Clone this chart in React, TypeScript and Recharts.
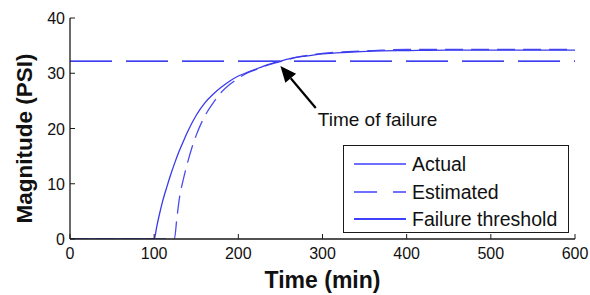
import React from "react";
import { LineChart, Line, XAxis, YAxis, Legend, ReferenceLine } from "recharts";

const actualT = [0, 100, 103, 106, 110, 115, 120, 125, 130, 135, 140, 150, 160, 170, 180, 190, 200, 210, 220, 230, 240, 250, 260, 270, 280, 300, 330, 360, 400, 450, 500, 600];
const actualV = [0, 0, 2.2, 4.3, 6.8, 9.4, 11.8, 14.0, 16.0, 17.8, 19.5, 22.4, 24.6, 26.2, 27.5, 28.6, 29.5, 30.1, 30.7, 31.3, 31.8, 32.2, 32.6, 32.9, 33.1, 33.5, 33.8, 34.0, 34.1, 34.2, 34.2, 34.2];

const estimatedT = [0, 124, 127, 130, 135, 140, 145, 150, 160, 170, 180, 190, 200, 210, 220, 230, 240, 250, 260, 270, 280, 300, 330, 360, 400, 450, 500, 600];
const estimatedV = [0, 0, 3.8, 7.4, 11.0, 14.0, 16.6, 18.8, 22.2, 24.6, 26.6, 28.0, 29.1, 30.0, 30.6, 31.2, 31.7, 32.1, 32.5, 32.9, 33.2, 33.6, 33.9, 34.1, 34.3, 34.3, 34.3, 34.3];

const thresholdT = [0, 600];
const thresholdV = [32.2, 32.2];

const xTicks = [0, 100, 200, 300, 400, 500, 600];
const yTicks = [0, 10, 20, 30, 40];

const arrowTail = { t: 292, v: 23.7 };
const arrowTip = { t: 250, v: 31.3 };
const annotationText = "Time of failure";

const legendItems = ["Actual", "Estimated", "Failure threshold"];
const xLabel = "Time (min)";
const yLabel = "Magnitude (PSI)";

const toData = (ts: number[], vs: number[]) => ts.map((t, i) => ({ t, v: vs[i] }));
const actualData = toData(actualT, actualV);
const estimatedData = toData(estimatedT, estimatedV);
const thresholdData = toData(thresholdT, thresholdV);

const FONT = "Arial, 'Liberation Sans', sans-serif";
const AXIS = "#1a1a1a";

const BottomTick = (p: any) => (
  <g>
    <line x1={p.x} y1={p.y} x2={p.x} y2={p.y - 5} stroke={AXIS} strokeWidth={1} />
    <text x={p.x} y={p.y + 20} textAnchor="middle" fontSize={16} fontFamily={FONT} fill="#111">
      {p.payload.value}
    </text>
  </g>
);
const TopTick = (p: any) => (
  <line x1={p.x} y1={p.y} x2={p.x} y2={p.y + 5} stroke={AXIS} strokeWidth={1} />
);
const LeftTick = (p: any) => (
  <g>
    <line x1={p.x} y1={p.y} x2={p.x + 5} y2={p.y} stroke={AXIS} strokeWidth={1} />
    <text x={p.x - 5} y={p.y + 6} textAnchor="end" fontSize={16} fontFamily={FONT} fill="#111">
      {p.payload.value}
    </text>
  </g>
);
const RightTick = (p: any) => (
  <line x1={p.x} y1={p.y} x2={p.x - 5} y2={p.y} stroke={AXIS} strokeWidth={1} />
);

const ArrowShape = (p: any) => {
  const { x1, y1, x2, y2 } = p;
  const dx = x2 - x1;
  const dy = y2 - y1;
  const len = Math.sqrt(dx * dx + dy * dy) || 1;
  const ux = dx / len;
  const uy = dy / len;
  const hl = 16;
  const hw = 7;
  const bx = x2 - ux * hl;
  const by = y2 - uy * hl;
  const pts = `${x2},${y2} ${bx - uy * hw},${by + ux * hw} ${bx + uy * hw},${by - ux * hw}`;
  return (
    <g>
      <line x1={x1} y1={y1} x2={bx} y2={by} stroke="#000" strokeWidth={2.2} />
      <polygon points={pts} fill="#000" />
      <text x={x1 + 2} y={y1 + 18} fontSize={19} fontFamily={FONT} fill="#111">
        {annotationText}
      </text>
    </g>
  );
};

const LegendBox = () => {
  const rowY = [18, 46, 73];
  return (
    <div
      style={{
        width: 226,
        height: 88,
        border: "1.3px solid #1a1a1a",
        background: "#fff",
        boxSizing: "border-box",
      }}
    >
      <svg width={224} height={86} style={{ display: "block" }}>
        <line x1={10} y1={rowY[0]} x2={62} y2={rowY[0]} stroke="#6f6fff" strokeWidth={1.8} />
        <line x1={10} y1={rowY[1]} x2={62} y2={rowY[1]} stroke="#6f6fff" strokeWidth={1.8} strokeDasharray="23 16" />
        <line x1={10} y1={rowY[2]} x2={62} y2={rowY[2]} stroke="#0000ff" strokeWidth={1.3} />
        {legendItems.map((s, i) => (
          <text key={s} x={68} y={rowY[i] + 7} fontSize={19.5} fontFamily={FONT} fill="#111">
            {s}
          </text>
        ))}
      </svg>
    </div>
  );
};

export default function App() {
  return (
    <div style={{ position: "absolute", left: 0, top: 0, background: "#fff" }}>
      <LineChart width={590} height={295} margin={{ top: 18, right: 15, bottom: 0, left: 0 }}>
        <XAxis
          xAxisId="bottom"
          dataKey="t"
          type="number"
          domain={[0, 600]}
          ticks={xTicks}
          height={56}
          tickSize={0}
          tickMargin={0}
          tickLine={false}
          tick={<BottomTick />}
          axisLine={{ stroke: AXIS, strokeWidth: 1.3 }}
          allowDataOverflow
          label={(props: any) => {
            const vb = props.viewBox;
            return (
              <text x={vb.x + vb.width / 2} y={vb.y + 49} textAnchor="middle" fontSize={23} fontWeight="bold" fontFamily={FONT} fill="#111">
                {xLabel}
              </text>
            );
          }}
        />
        <XAxis
          xAxisId="top"
          orientation="top"
          dataKey="t"
          type="number"
          domain={[0, 600]}
          ticks={xTicks}
          height={0}
          tickSize={0}
          tickMargin={0}
          tickLine={false}
          tick={<TopTick />}
          axisLine={{ stroke: AXIS, strokeWidth: 1.3 }}
          allowDataOverflow
        />
        <YAxis
          yAxisId="left"
          type="number"
          domain={[0, 40]}
          ticks={yTicks}
          width={70}
          tickSize={0}
          tickMargin={0}
          tickLine={false}
          tick={<LeftTick />}
          axisLine={{ stroke: AXIS, strokeWidth: 1.3 }}
          allowDataOverflow
          label={(props: any) => {
            const vb = props.viewBox;
            const cx = 32;
            const cy = vb.y + vb.height / 2 + 10;
            return (
              <text x={cx} y={cy} transform={`rotate(-90, ${cx}, ${cy})`} textAnchor="middle" fontSize={22.5} fontWeight="bold" fontFamily={FONT} fill="#111">
                {yLabel}
              </text>
            );
          }}
        />
        <YAxis
          yAxisId="right"
          orientation="right"
          type="number"
          domain={[0, 40]}
          ticks={yTicks}
          width={0}
          tickSize={0}
          tickMargin={0}
          tickLine={false}
          tick={<RightTick />}
          axisLine={{ stroke: AXIS, strokeWidth: 1.3 }}
          allowDataOverflow
        />
        <Line
          xAxisId="bottom"
          yAxisId="left"
          data={thresholdData}
          dataKey="v"
          stroke="#0000ee"
          strokeWidth={1.1}
          strokeDasharray="42 14"
          dot={false}
          isAnimationActive={false}
          name="Failure threshold"
        />
        <Line
          xAxisId="bottom"
          yAxisId="left"
          data={estimatedData}
          dataKey="v"
          type="monotone"
          stroke="#4b4bf2"
          strokeWidth={1.3}
          strokeDasharray="18 8"
          dot={false}
          isAnimationActive={false}
          name="Estimated"
        />
        <Line
          xAxisId="bottom"
          yAxisId="left"
          data={actualData}
          dataKey="v"
          type="monotone"
          stroke="#3a3aee"
          strokeWidth={1.3}
          dot={false}
          isAnimationActive={false}
          name="Actual"
        />
        <ReferenceLine
          xAxisId="bottom"
          yAxisId="left"
          segment={[
            { x: arrowTail.t, y: arrowTail.v },
            { x: arrowTip.t, y: arrowTip.v },
          ]}
          ifOverflow="visible"
          shape={(p: any) => <ArrowShape {...p} />}
        />
        <Legend
          layout="vertical"
          align="center"
          verticalAlign="middle"
          content={() => <LegendBox />}
          wrapperStyle={{ position: "absolute", left: 343, top: 145, width: 226, height: 88 }}
        />
      </LineChart>
    </div>
  );
}
